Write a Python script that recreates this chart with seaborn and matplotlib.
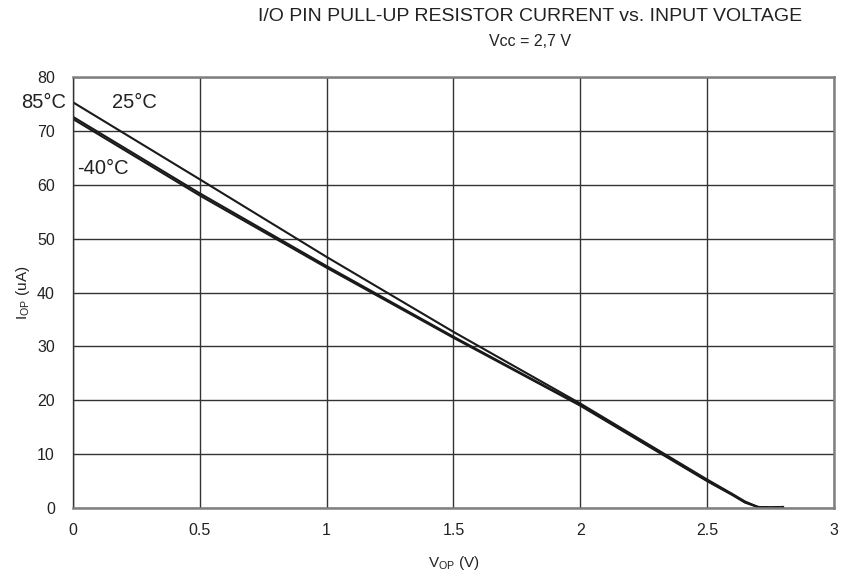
import matplotlib
matplotlib.use("Agg")
import matplotlib.pyplot as plt
import seaborn as sns
import pandas as pd

v_op = [0, 0.5, 1, 1.5, 2, 2.5, 2.6, 2.65, 2.7, 2.75, 2.8]
i_85 = [75.3, 61.0, 46.6, 32.7, 19.4, 5.3, 2.6, 1.2, 0.2, 0.1, 0.2]
i_25 = [72.6, 58.4, 44.9, 31.8, 19.1, 5.1, 2.5, 1.1, 0.2, 0.1, 0.2]
i_m40 = [72.2, 58.0, 44.6, 31.6, 19.0, 5.0, 2.4, 1.0, 0.2, 0.1, 0.2]
series_names = ["85°C", "25°C", "-40°C"]
x_ticks = [0, 0.5, 1, 1.5, 2, 2.5, 3]
x_tick_labels = ["0", "0.5", "1", "1.5", "2", "2.5", "3"]
y_ticks = [0, 10, 20, 30, 40, 50, 60, 70, 80]

rows = []
for name, vals in zip(series_names, [i_85, i_25, i_m40]):
    for x, y in zip(v_op, vals):
        rows.append({"V": x, "I": y, "T": name})
df = pd.DataFrame(rows)

sns.set_style("white")
plt.rcParams["font.family"] = ["Liberation Sans", "DejaVu Sans"]

fig = plt.figure(figsize=(8.44, 5.81), dpi=100)
ax = fig.add_axes([0.0865, 0.1256, 0.9015, 0.7419])

sns.lineplot(data=df, x="V", y="I", hue="T", palette=["#1a1a1a"] * 3,
             legend=False, ax=ax, linewidth=1.5, estimator=None, sort=False)

ax.set_xlim(0, 3)
ax.set_ylim(0, 80)
ax.set_xticks(x_ticks)
ax.set_xticklabels(x_tick_labels)
ax.set_yticks(y_ticks)
ax.grid(True, color="#333333", linewidth=1.0)
ax.tick_params(axis="both", length=0, labelsize=11.5, colors="#222222")
ax.tick_params(axis="y", pad=13)
ax.tick_params(axis="x", pad=11)
for s in ax.spines.values():
    s.set_color("#808080")
    s.set_linewidth(1.8)
ax.spines["left"].set_color("#333333")
ax.spines["left"].set_linewidth(1.0)

ax.set_xlabel("V$_{\\mathregular{OP}}$ (V)", fontsize=11, color="#222222", labelpad=11)
ax.set_ylabel("I$_{\\mathregular{OP}}$ (uA)", fontsize=11, color="#222222", labelpad=4)

fig.text(0.628, 0.972, "I/O PIN PULL-UP RESISTOR CURRENT vs. INPUT VOLTAGE",
         ha="center", va="center", fontsize=14, color="#222222")
fig.text(0.628, 0.929, "Vcc = 2,7 V", ha="center", va="center", fontsize=11.5, color="#222222")

ax.text(-0.028, 75.3, "85°C", ha="right", va="center", fontsize=14.5, color="#222222")
ax.text(0.154, 75.3, "25°C", ha="left", va="center", fontsize=14.5, color="#222222")
ax.text(0.016, 63.1, "-40°C", ha="left", va="center", fontsize=14.5, color="#222222")

fig.savefig("out.png", dpi=100)
